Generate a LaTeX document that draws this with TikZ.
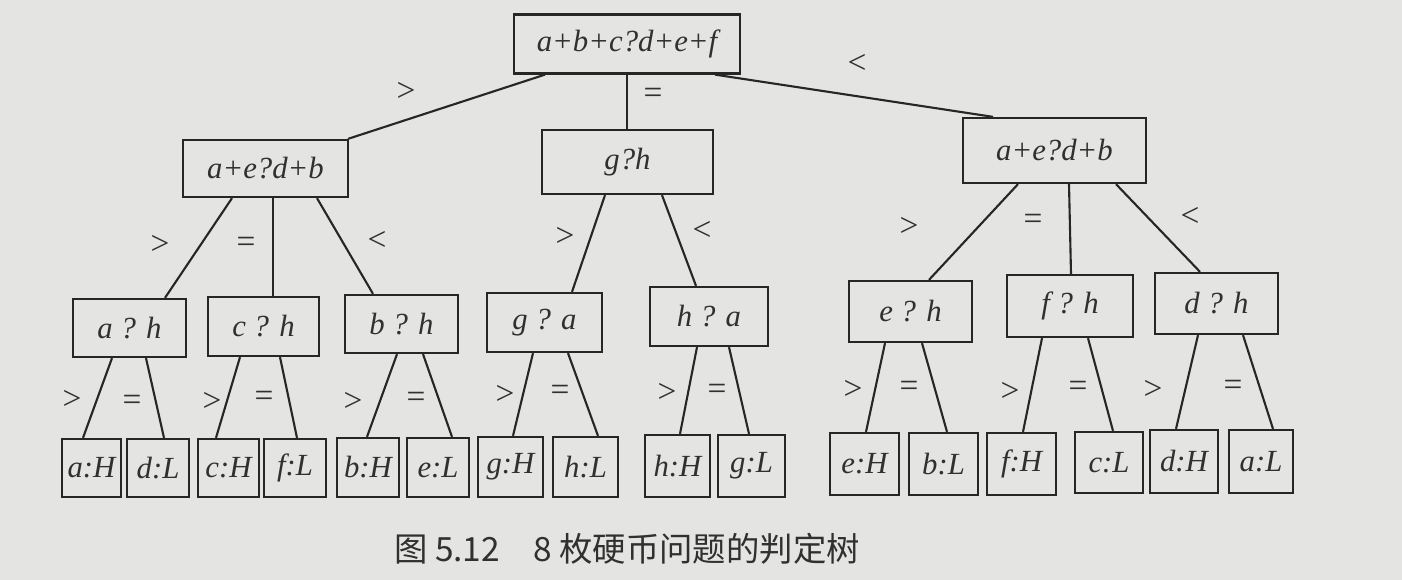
\documentclass[tikz,border=0pt]{standalone}
\usepackage{fontspec}
\setmainfont{Liberation Serif}
\newfontfamily\cjk{Noto Sans CJK SC}
\usetikzlibrary{calc}
\definecolor{paper}{HTML}{E4E4E2}
\definecolor{ink}{HTML}{262626}
\definecolor{txt}{HTML}{303030}
\tikzset{
  box/.style={draw=ink, line width=1.3pt, fill=paper, inner sep=1pt,
    font=\fontsize{17.5}{20}\selectfont\itshape, text=txt},
  lbl/.style={font=\fontsize{19}{22}\selectfont, text=txt, inner sep=0pt},
  conn/.style={draw=ink, line width=1.2pt},
}
\newcommand{\tedge}[4]{\draw[conn] ($(#1.south)+(#2,0)$) -- ($(#3.north)+(#4,0)$);}
\begin{document}
\begin{tikzpicture}[x=0.02cm, y=-0.02cm]
\fill[paper] (0,0) rectangle (1402,580);
\useasboundingbox (0,0) rectangle (1402,580);
% root and level 1
\node[box, minimum width=4.52cm, minimum height=1.18cm] (root) at (627,44) {a+b+c?d+e+f};
\node[box, minimum width=3.30cm, minimum height=1.14cm] (L) at (265.5,168.5) {a+e?d+b};
\node[box, minimum width=3.42cm, minimum height=1.28cm] (M) at (627.5,162) {g?h};
\node[box, minimum width=3.66cm, minimum height=1.30cm] (R) at (1054.5,150.5) {a+e?d+b};
% level 2
\node[box, minimum width=2.26cm, minimum height=1.16cm] (ah) at (129.5,328) {a ? h};
\node[box, minimum width=2.22cm, minimum height=1.18cm] (ch) at (263.5,326.5) {c ? h};
\node[box, minimum width=2.26cm, minimum height=1.16cm] (bh) at (401.5,324) {b ? h};
\node[box, minimum width=2.30cm, minimum height=1.18cm] (ga) at (544.5,322.5) {g ? a};
\node[box, minimum width=2.36cm, minimum height=1.18cm] (ha) at (709,316.5) {h ? a};
\node[box, minimum width=2.46cm, minimum height=1.22cm] (eh) at (910.5,311.5) {e ? h};
\node[box, minimum width=2.52cm, minimum height=1.24cm] (fh) at (1070,306) {f ? h};
\node[box, minimum width=2.46cm, minimum height=1.22cm] (dh) at (1216.5,303.5) {d ? h};
% leaves
\node[box, minimum width=1.18cm, minimum height=1.16cm] (aH) at (91.5,468) {a:H};
\node[box, minimum width=1.24cm, minimum height=1.16cm] (dL) at (158,468) {d:L};
\node[box, minimum width=1.22cm, minimum height=1.16cm] (cH) at (228.5,468) {c:H};
\node[box, minimum width=1.24cm, minimum height=1.16cm] (fL) at (295,468) {f:L};
\node[box, minimum width=1.24cm, minimum height=1.18cm] (bH) at (368,467.5) {b:H};
\node[box, minimum width=1.24cm, minimum height=1.18cm] (eL) at (438,467.5) {e:L};
\node[box, minimum width=1.30cm, minimum height=1.20cm] (gH) at (510.5,467) {g:H};
\node[box, minimum width=1.30cm, minimum height=1.20cm] (hL) at (585.5,467) {h:L};
\node[box, minimum width=1.30cm, minimum height=1.24cm] (hH) at (677.5,466) {h:H};
\node[box, minimum width=1.34cm, minimum height=1.24cm] (gL) at (751.5,466) {g:L};
\node[box, minimum width=1.38cm, minimum height=1.24cm] (eH) at (864.5,464) {e:H};
\node[box, minimum width=1.38cm, minimum height=1.24cm] (bL) at (943.5,464) {b:L};
\node[box, minimum width=1.38cm, minimum height=1.24cm] (fH) at (1021.5,464) {f:H};
\node[box, minimum width=1.36cm, minimum height=1.22cm] (cL) at (1109,462.5) {c:L};
\node[box, minimum width=1.36cm, minimum height=1.26cm] (dH) at (1184,461.5) {d:H};
\node[box, minimum width=1.28cm, minimum height=1.26cm] (aL) at (1261,461.5) {a:L};
% connectors
\tedge{root}{-82}{L}{82.5}
\tedge{root}{0}{M}{-0.5}
\tedge{root}{88}{R}{-61.5}
\tedge{L}{-33.5}{ah}{35.5}
\tedge{L}{7.5}{ch}{9.5}
\tedge{L}{51.5}{bh}{-28.5}
\tedge{M}{-22.5}{ga}{27.5}
\tedge{M}{34.5}{ha}{-13}
\tedge{R}{-36.5}{eh}{18.5}
\tedge{R}{14.5}{fh}{1}
\tedge{R}{61.5}{dh}{-16.5}
\tedge{ah}{-17.5}{aH}{-8.5}
\tedge{ah}{16.5}{dL}{6}
\tedge{ch}{-23.5}{cH}{-12.5}
\tedge{ch}{16.5}{fL}{2}
\tedge{bh}{-4.5}{bH}{-1}
\tedge{bh}{21.5}{eL}{14}
\tedge{ga}{-11.5}{gH}{2.5}
\tedge{ga}{23.5}{hL}{12.5}
\tedge{ha}{-12}{hH}{2.5}
\tedge{ha}{20}{gL}{-2.5}
\tedge{eh}{-25.5}{eH}{1.5}
\tedge{eh}{11.5}{bL}{3.5}
\tedge{fh}{-28}{fH}{1.5}
\tedge{fh}{18}{cL}{4}
\tedge{dh}{-18.5}{dH}{-8}
\tedge{dh}{26.5}{aL}{12}
% labels
\node[lbl] (l1) at (406,92) {>};
\node[lbl] (l2) at (653,96) {=};
\node[lbl] (l3) at (857,64) {<};
\node[lbl] (l4) at (160,245) {>};
\node[lbl] (l5) at (246,245) {=};
\node[lbl] (l6) at (377,241) {<};
\node[lbl] (l7) at (565,237) {>};
\node[lbl] (l8) at (702,231) {<};
\node[lbl] (l9) at (909,227) {>};
\node[lbl] (l10) at (1033,222) {=};
\node[lbl] (l11) at (1190,217) {<};
\node[lbl] (m1) at (72,400) {>};
\node[lbl] (m2) at (132,403) {=};
\node[lbl] (m3) at (212,402) {>};
\node[lbl] (m4) at (264,399) {=};
\node[lbl] (m5) at (353,402) {>};
\node[lbl] (m6) at (416,400) {=};
\node[lbl] (m7) at (505,395) {>};
\node[lbl] (m8) at (560,393) {=};
\node[lbl] (m9) at (667,393) {>};
\node[lbl] (m10) at (717,392) {=};
\node[lbl] (m11) at (853,390) {>};
\node[lbl] (m12) at (909,389) {=};
\node[lbl] (m13) at (1010,392) {>};
\node[lbl] (m14) at (1078,389) {=};
\node[lbl] (m15) at (1153,390) {>};
\node[lbl] (m16) at (1233,388) {=};
% caption
\node[text=txt, inner sep=0pt, font=\fontsize{19}{23}\selectfont\cjk] (cap) at (627,549) {图 5.12\hspace{1em}8 枚硬币问题的判定树};
\end{tikzpicture}
\end{document}
